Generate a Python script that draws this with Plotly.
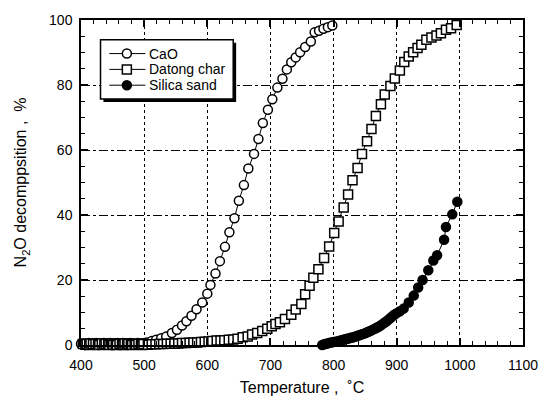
import plotly.graph_objects as go

# N2O decomposition over three bed materials
cao_temp = [400, 402, 404, 406, 408, 410, 412, 414, 416, 418, 420, 422, 424, 426, 428,
            430, 432, 434, 436, 438, 440, 442, 444, 446, 448, 450, 452, 454, 456, 458,
            460, 462, 464, 466, 468, 470, 472, 474, 476, 478, 480, 482, 484, 486, 488,
            490, 492, 494, 496, 498, 500,
            504, 512, 519, 527, 535, 544, 552, 560, 567, 575, 583, 592, 600, 605,
            613, 620, 628, 635, 643, 650, 658, 665, 674, 681, 688, 696, 703, 711,
            719, 726, 733, 740, 747, 755, 764, 770, 777, 784, 791, 798]
cao_val = [0.4, -0.3, 0.5, 0.0, -0.4, 0.3, 0.6, -0.2, 0.1, 0.5, -0.4, 0.2, 0.6, -0.3, 0.0,
           0.5, -0.2, 0.3, 0.6, -0.4, 0.1, 0.4, -0.3, 0.6, 0.0, -0.2, 0.5, 0.2, -0.4, 0.6,
           0.1, -0.3, 0.4, 0.6, -0.2, 0.0, 0.5, -0.4, 0.3, 0.6, -0.1, 0.2, 0.5, -0.3, 0.4,
           0.6, -0.2, 0.1, 0.5, -0.4, 0.5,
           0.8, 1.2, 1.6, 2.1, 2.6, 3.7, 4.7, 6.0, 7.3, 9.0, 11.0, 13.1, 15.8, 18.5,
           22.0, 25.8, 30.2, 34.7, 39.0, 44.4, 49.2, 54.3, 58.8, 63.4, 68.3, 72.4, 75.6, 79.2,
           81.9, 84.8, 87.0, 88.5, 90.1, 91.7, 93.4, 96.2, 96.7, 97.3, 97.8, 98.3]

datong_temp = [401, 403, 405, 407, 409, 411, 413, 415, 417, 419, 421, 423, 425, 427, 429,
               431, 433, 435, 437, 439, 441, 443, 445, 447, 449, 451, 453, 455, 457, 459,
               461, 463, 465, 467, 469, 471, 473, 475, 477, 479, 481, 483, 485, 487, 489,
               491, 493, 495, 497, 499,
               506, 512, 518, 524, 530, 536, 542, 548, 554, 560, 566, 572, 578, 584,
               590, 596, 602, 608, 615, 621, 627, 634, 641, 648, 656, 664, 671, 679,
               687, 695, 702, 708, 715, 723, 733, 740, 749, 755, 762, 768, 776, 785,
               793, 801, 808, 816, 823, 830, 838, 845, 853, 860, 867, 875, 881, 890,
               897, 905, 912, 919, 926, 933, 939, 947, 955, 963, 970, 978, 986, 995]
datong_val = [-0.2, 0.3, -0.5, 0.1, 0.4, -0.3, 0.0, 0.5, -0.4, 0.2, -0.1, 0.4, -0.5, 0.3, 0.0,
              -0.3, 0.5, -0.2, 0.1, 0.4, -0.5, 0.2, 0.0, -0.3, 0.5, 0.1, -0.4, 0.3, 0.0, -0.2,
              0.4, -0.5, 0.2, 0.0, 0.5, -0.3, 0.1, 0.4, -0.4, 0.2, 0.0, -0.5, 0.3, 0.1, -0.2,
              0.4, -0.4, 0.2, 0.0, 0.3,
              0.1, 0.2, 0.2, 0.3, 0.3, 0.4, 0.4, 0.5, 0.5, 0.6, 0.6, 0.7, 0.8, 0.8,
              0.9, 1.0, 1.1, 1.2, 1.4, 1.4, 1.5, 1.6, 1.7, 1.9, 2.4, 2.6, 3.2, 3.7,
              4.3, 5.0, 5.8, 6.5, 7.0, 8.0, 9.3, 10.9, 12.6, 15.6, 18.2, 20.7, 23.3, 26.8,
              30.3, 34.5, 38.0, 42.3, 46.3, 50.7, 54.5, 58.8, 62.7, 66.5, 70.5, 74.1, 77.1, 79.7,
              82.0, 84.5, 87.1, 88.8, 90.1, 91.4, 92.4, 93.9, 94.6, 95.2, 95.9, 97.0, 97.5, 98.5]

silica_temp = [782, 785, 788, 791, 794, 797, 800, 803, 806, 809, 812, 815, 818, 821, 824,
               827, 830, 833, 836, 839, 842, 845, 848, 851, 854, 857, 860, 863, 866, 869,
               872, 875, 878, 881, 884, 887, 890, 893, 896, 900, 905, 911, 919, 927, 934,
               941, 950, 958, 964, 975, 978, 988, 996]
silica_val = [0.0, 0.2, 0.4, 0.5, 0.7, 0.8, 0.9, 1.0, 1.1, 1.3, 1.4, 1.6, 1.7, 1.9, 2.0,
              2.2, 2.3, 2.5, 2.7, 2.9, 3.1, 3.3, 3.5, 3.7, 4.0, 4.2, 4.5, 4.8, 5.1, 5.4,
              5.7, 6.1, 6.5, 6.9, 7.3, 7.8, 8.3, 8.8, 9.3, 9.8, 10.4, 11.2, 13.1, 15.2, 17.7,
              20.0, 23.0, 26.0, 27.6, 32.4, 36.3, 40.2, 44.1]

series_names = ["CaO", "Datong char", "Silica sand"]
x_ticks = [400, 500, 600, 700, 800, 900, 1000, 1100]
y_ticks = [0, 20, 40, 60, 80, 100]

FONT = "Liberation Sans, Arial, sans-serif"
MARK = dict(size=9, line=dict(color="black", width=1.5))

styles = [
    dict(symbol="circle", color="white"),
    dict(symbol="square", color="white"),
    dict(symbol="circle", color="black"),
]

fig = go.Figure()
for name, xs, ys, st in zip(series_names,
                            [cao_temp, datong_temp, silica_temp],
                            [cao_val, datong_val, silica_val],
                            styles):
    fig.add_trace(go.Scatter(
        x=xs, y=ys, name=name, mode="lines+markers", showlegend=False, cliponaxis=False,
        line=dict(color="black", width=1),
        marker=dict(symbol=st["symbol"], size=MARK["size"], color=st["color"], line=MARK["line"]),
    ))

axis_common = dict(
    showline=True, linecolor="black", linewidth=1.5, mirror="ticks",
    ticks="inside", tickcolor="black", tickwidth=1.5, ticklen=7,
    tickfont=dict(family=FONT, size=14, color="black"),
    showgrid=True, gridcolor="black", gridwidth=1, zeroline=False,
)

fig.update_xaxes(
    **axis_common, range=[400, 1100], tickvals=x_ticks, griddash="dot",
    ticklabelstandoff=6,
    minor=dict(ticks="inside", ticklen=4, tickcolor="black", tickwidth=1.2, dtick=20, showgrid=False),
    title=dict(text="Temperature ,  ˚C", font=dict(family=FONT, size=16, color="black"), standoff=10),
)
fig.update_yaxes(
    **axis_common, range=[0, 100], tickvals=y_ticks, griddash="dashdot",
    ticklabelstandoff=4,
    minor=dict(ticks="inside", ticklen=4, tickcolor="black", tickwidth=1.2, dtick=5, showgrid=False),
    title=dict(text="N<sub>2</sub>O decomppsition ,  %", font=dict(family=FONT, size=16, color="black"), standoff=18),
)

# Legend panel with a drop shadow, drawn in paper coordinates
PL, PT, PW, PH = 81, 19, 453, 329


def px_x(px):
    return (px - PL) / PW


def px_y(py):
    return (PT + PH - py) / PH


box = dict(l=101, t=39, r=237, b=99)
shapes = [
    dict(type="rect", xref="paper", yref="paper",
         x0=px_x(box["l"] + 3), x1=px_x(box["r"] + 3), y0=px_y(box["b"] + 3), y1=px_y(box["t"] + 3),
         fillcolor="black", line=dict(width=0), layer="above"),
    dict(type="rect", xref="paper", yref="paper",
         x0=px_x(box["l"]), x1=px_x(box["r"]), y0=px_y(box["b"]), y1=px_y(box["t"]),
         fillcolor="white", line=dict(color="black", width=1.5), layer="above"),
]
annotations = []
row_y = [53, 69, 85]
for name, st, ry in zip(series_names, styles, row_y):
    yy = px_y(ry)
    shapes.append(dict(type="line", xref="paper", yref="paper",
                       x0=px_x(110), x1=px_x(147), y0=yy, y1=yy,
                       line=dict(color="black", width=1), layer="above"))
    shapes.append(dict(type="circle" if st["symbol"] == "circle" else "rect",
                       xref="paper", yref="paper", xsizemode="pixel", ysizemode="pixel",
                       xanchor=px_x(128), yanchor=yy, x0=-4.5, x1=4.5, y0=-4.5, y1=4.5,
                       fillcolor=st["color"], line=dict(color="black", width=1.5), layer="above"))
    annotations.append(dict(xref="paper", yref="paper", x=px_x(149), y=yy,
                            xanchor="left", yanchor="middle", showarrow=False, text=name,
                            font=dict(family=FONT, size=14, color="black")))

fig.update_layout(
    width=550, height=406,
    margin=dict(l=PL, r=550 - PL - PW, t=PT, b=406 - PT - PH),
    paper_bgcolor="white", plot_bgcolor="white",
    shapes=shapes, annotations=annotations,
)

fig.write_html("out.html")
